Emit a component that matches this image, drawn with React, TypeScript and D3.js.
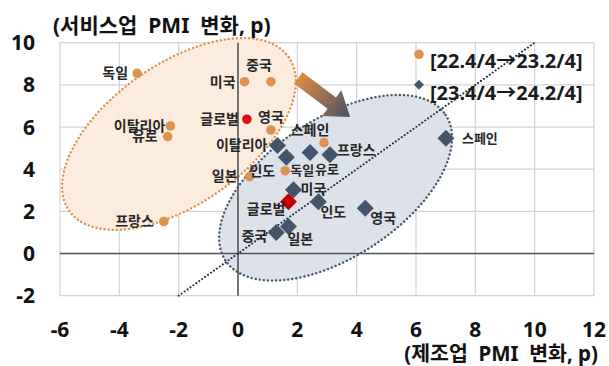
import React from "react";
import * as d3 from "d3";

const xTicks = [-6, -4, -2, 0, 2, 4, 6, 8, 10, 12];
const yTicks = [-2, 0, 2, 4, 6, 8, 10];

// Series A: 22.4/4 -> 23.2/4 (orange circles)
const namesA = ["독일", "미국", "중국", "글로벌", "영국", "이탈리아", "유로", "일본", "인도", "스페인", "프랑스"];
const xA = [-3.4, 0.22, 1.11, 0.3, 1.11, -2.28, -2.37, 0.39, 1.59, 2.9, -2.5];
const yA = [8.55, 8.15, 8.15, 6.37, 5.86, 6.05, 5.55, 3.65, 3.93, 5.26, 1.52];

// Series B: 23.4/4 -> 24.2/4 (blue diamonds)
const namesB = ["이탈리아", "독일", "유로", "프랑스", "미국", "글로벌", "인도", "영국", "중국", "일본", "스페인"];
const xB = [1.33, 1.63, 2.43, 3.1, 1.87, 1.7, 2.71, 4.29, 1.29, 1.7, 7.01];
const yB = [5.12, 4.57, 4.79, 4.68, 3.02, 2.46, 2.46, 2.15, 1.0, 1.28, 5.47];

const legendLabels = ["[22.4/4→23.2/4]", "[23.4/4→24.2/4]"];
const yTitle = "(서비스업  PMI  변화, p)";
const xTitle = "(제조업  PMI  변화, p)";

// label placement (anchor, dx, dy in px)
const labelPosA: [string, number, number][] = [
  ["end", -9, 0], ["end", -9, 0], ["middle", -12, -17], ["end", -8, 0], ["middle", 0, -13],
  ["end", -5, 0], ["end", -10, 0], ["end", -12, 0], ["end", -10, 0], ["middle", -14, -13], ["end", -10, 0],
];
const labelPosB: [string, number, number][] = [
  ["end", -10, 0], ["start", 4, 13], ["start", 5, 17], ["start", 7, -5], ["start", 7, -1],
  ["end", -3, 7], ["start", 2, 10], ["start", 5, 10], ["end", -9, 4], ["start", -1, 13], ["start", 16, 0],
];

const W = 609, H = 366;
const FONT = "'Noto Sans', 'Noto Sans CJK KR', sans-serif";

export default function App() {
  const x = d3.scaleLinear().domain([-6, 12]).range([60, 594]);
  const y = d3.scaleLinear().domain([-2, 10]).range([295.7, 42.7]);

  const orange = "#dc9352";
  const navy = "#44546a";
  const red = "#c00000";

  // arrow
  const ax0 = x(2.03), ay0 = y(8.33), ax1 = x(3.78), ay1 = y(6.48);
  const ang = Math.atan2(ay1 - ay0, ax1 - ax0) * 180 / Math.PI;
  const len = Math.hypot(ax1 - ax0, ay1 - ay0);
  const headL = 23, shaftW = 14, headW = 32;

  const diamond = (s: number) => `M0,${-s}L${s},0L0,${s}L${-s},0Z`;

  const oc = [x(-1.99), y(5.67)];
  const bc = [x(3.29), y(3.12)];

  return (
    <svg width={W} height={H} style={{ position: "absolute", left: 0, top: 0, background: "#fff" }} fontFamily={FONT}>
      <defs>
        <linearGradient id="arrowGrad" gradientUnits="userSpaceOnUse" x1={0} y1={0} x2={len} y2={0}>
          <stop offset="0" stopColor="#dc8c45" />
          <stop offset="1" stopColor="#4a5063" />
        </linearGradient>
      </defs>
      {/* grid */}
      {xTicks.map((t) => (
        <line key={"gx" + t} x1={x(t)} x2={x(t)} y1={y(10)} y2={y(-2)} stroke="#d4d4d4" strokeWidth={1.2} />
      ))}
      {yTicks.map((t) => (
        <line key={"gy" + t} x1={x(-6)} x2={x(12)} y1={y(t)} y2={y(t)} stroke="#d4d4d4" strokeWidth={1.2} />
      ))}
      {/* ellipses */}
      <ellipse cx={bc[0]} cy={bc[1]} rx={132} ry={69}
        transform={`rotate(-33.5 ${bc[0]} ${bc[1]})`}
        fill="#dde2ea" stroke={navy} strokeWidth={2.4} strokeDasharray="0.1 4" strokeLinecap="round" />
      <ellipse cx={oc[0]} cy={oc[1]} rx={134} ry={70}
        transform={`rotate(-35 ${oc[0]} ${oc[1]})`}
        fill="#fcecde" stroke={orange} strokeWidth={2.4} strokeDasharray="0.1 4" strokeLinecap="round" />
      {/* axes */}
      <line x1={x(0)} x2={x(0)} y1={y(10)} y2={y(-2)} stroke="#555" strokeWidth={1.6} />
      <line x1={x(-6)} x2={x(12)} y1={y(0)} y2={y(0)} stroke="#555" strokeWidth={1.6} />
      {/* diagonal */}
      <line x1={x(-2)} y1={y(-2)} x2={x(10)} y2={y(10)} stroke="#1f2b45" strokeWidth={2} strokeDasharray="0.1 3.5" strokeLinecap="round" />
      {/* arrow */}
      <g transform={`translate(${ax0},${ay0}) rotate(${ang})`}>
        <path
          d={`M0,${-shaftW / 2}L${len - headL},${-shaftW / 2}L${len - headL},${-headW / 2}L${len},0L${len - headL},${headW / 2}L${len - headL},${shaftW / 2}L0,${shaftW / 2}Z`}
          fill="url(#arrowGrad)" />
      </g>
      {/* series A */}
      {namesA.map((n, i) => (
        <circle key={"a" + i} cx={x(xA[i])} cy={y(yA[i])} r={4.8} fill={n === "글로벌" ? "#d91010" : orange} />
      ))}
      {/* series B */}
      {namesB.map((n, i) => (
        <path key={"b" + i} d={diamond(8.5)} transform={`translate(${x(xB[i])},${y(yB[i])})`} fill={n === "글로벌" ? red : navy} />
      ))}
      {/* labels */}
      {namesA.map((n, i) => (
        <text key={"la" + i} x={x(xA[i]) + labelPosA[i][1]} y={y(yA[i]) + labelPosA[i][2]} dy="0.35em"
          textAnchor={labelPosA[i][0] as any} fontSize={14} fontWeight="bold" fill="#262626">{n}</text>
      ))}
      {namesB.map((n, i) => (
        <text key={"lb" + i} x={x(xB[i]) + labelPosB[i][1]} y={y(yB[i]) + labelPosB[i][2]} dy="0.35em"
          textAnchor={labelPosB[i][0] as any} fontSize={i === 10 ? 13 : (i === 1 || i === 2) ? 13 : 14} fontWeight="bold" fill="#262626">{n}</text>
      ))}
      {/* legend */}
      <circle cx={x(6.1)} cy={y(9.45)} r={4.8} fill={orange} />
      <path d={diamond(5)} transform={`translate(${x(6.1)},${y(8.0)})`} fill={navy} />
      <text x={430} y={61} dy="0.35em" fontSize={20} fontWeight="bold" fill="#1a1a1a">{legendLabels[0]}</text>
      <text x={430} y={93} dy="0.35em" fontSize={20} fontWeight="bold" fill="#1a1a1a">{legendLabels[1]}</text>
      {/* tick labels */}
      {yTicks.map((t) => (
        <text key={"ty" + t} x={35} y={y(t)} dy="0.36em" textAnchor="end" fontSize={21} fontWeight="bold" fill="#111">{t}</text>
      ))}
      {xTicks.map((t) => (
        <text key={"tx" + t} x={x(t)} y={329} dy="0.36em" textAnchor="middle" fontSize={21} fontWeight="bold" fill="#111">{t}</text>
      ))}
      {/* titles */}
      <text x={53} y={25} dy="0.36em" fontSize={21} fontWeight="bold" fill="#111" style={{ whiteSpace: "pre" }}>{yTitle}</text>
      <text x={598} y={354} dy="0.36em" textAnchor="end" fontSize={20.5} fontWeight="bold" fill="#111" style={{ whiteSpace: "pre" }}>{xTitle}</text>
    </svg>
  );
}
